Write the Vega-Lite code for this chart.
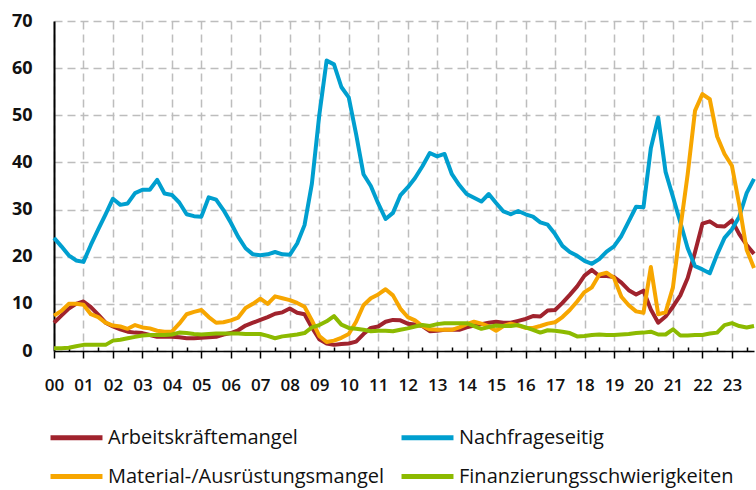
{
  "$schema": "https://vega.github.io/schema/vega-lite/v6.json",
  "autosize": "none",
  "width": 700,
  "height": 330,
  "padding": {"left": 54, "top": 21, "right": 2, "bottom": 139},
  "background": "white",
  "config": {
    "view": {"stroke": null},
    "font": "Open Sans"
  },
  "data": {
    "values": [
      {"t":2000.00,"A":6.0,"N":24.0,"M":7.5,"F":0.6},
      {"t":2000.25,"A":7.5,"N":22.2,"M":8.5,"F":0.6},
      {"t":2000.50,"A":9.0,"N":20.3,"M":10.0,"F":0.7},
      {"t":2000.75,"A":10.0,"N":19.2,"M":10.0,"F":1.0},
      {"t":2001.00,"A":10.5,"N":18.9,"M":9.8,"F":1.3},
      {"t":2001.25,"A":9.3,"N":22.5,"M":7.8,"F":1.3},
      {"t":2001.50,"A":7.7,"N":25.8,"M":7.2,"F":1.3},
      {"t":2001.75,"A":6.0,"N":29.0,"M":6.0,"F":1.3},
      {"t":2002.00,"A":5.2,"N":32.3,"M":5.4,"F":2.2},
      {"t":2002.25,"A":4.6,"N":31.0,"M":5.2,"F":2.4},
      {"t":2002.50,"A":4.1,"N":31.3,"M":4.7,"F":2.7},
      {"t":2002.75,"A":3.9,"N":33.5,"M":5.5,"F":3.0},
      {"t":2003.00,"A":3.8,"N":34.2,"M":5.0,"F":3.3},
      {"t":2003.25,"A":3.4,"N":34.2,"M":4.8,"F":3.4},
      {"t":2003.50,"A":3.0,"N":36.3,"M":4.3,"F":3.4},
      {"t":2003.75,"A":3.0,"N":33.4,"M":4.1,"F":3.4},
      {"t":2004.00,"A":3.0,"N":33.1,"M":4.1,"F":3.5},
      {"t":2004.25,"A":2.9,"N":31.5,"M":5.8,"F":3.9},
      {"t":2004.50,"A":2.7,"N":29.0,"M":7.8,"F":3.8},
      {"t":2004.75,"A":2.7,"N":28.6,"M":8.3,"F":3.6},
      {"t":2005.00,"A":2.8,"N":28.5,"M":8.7,"F":3.5},
      {"t":2005.25,"A":2.9,"N":32.6,"M":7.2,"F":3.6},
      {"t":2005.50,"A":3.0,"N":32.1,"M":6.0,"F":3.7},
      {"t":2005.75,"A":3.5,"N":29.9,"M":6.1,"F":3.7},
      {"t":2006.00,"A":3.8,"N":27.2,"M":6.5,"F":3.7},
      {"t":2006.25,"A":4.4,"N":24.2,"M":7.1,"F":3.7},
      {"t":2006.50,"A":5.4,"N":21.8,"M":9.1,"F":3.6},
      {"t":2006.75,"A":6.0,"N":20.5,"M":10.0,"F":3.6},
      {"t":2007.00,"A":6.6,"N":20.3,"M":11.1,"F":3.6},
      {"t":2007.25,"A":7.2,"N":20.5,"M":10.0,"F":3.2},
      {"t":2007.50,"A":7.9,"N":21.0,"M":11.6,"F":2.7},
      {"t":2007.75,"A":8.2,"N":20.5,"M":11.2,"F":3.1},
      {"t":2008.00,"A":9.0,"N":20.4,"M":10.8,"F":3.3},
      {"t":2008.25,"A":8.1,"N":22.8,"M":10.2,"F":3.5},
      {"t":2008.50,"A":7.8,"N":26.7,"M":9.4,"F":3.8},
      {"t":2008.75,"A":5.0,"N":35.5,"M":6.5,"F":5.0},
      {"t":2009.00,"A":2.5,"N":50.0,"M":3.2,"F":5.5},
      {"t":2009.25,"A":1.6,"N":61.6,"M":1.9,"F":6.3},
      {"t":2009.50,"A":1.3,"N":60.8,"M":2.2,"F":7.4},
      {"t":2009.75,"A":1.5,"N":56.0,"M":2.8,"F":5.6},
      {"t":2010.00,"A":1.6,"N":53.8,"M":3.6,"F":4.9},
      {"t":2010.25,"A":2.0,"N":46.0,"M":6.2,"F":4.7},
      {"t":2010.50,"A":3.6,"N":37.5,"M":9.7,"F":4.5},
      {"t":2010.75,"A":4.9,"N":35.0,"M":11.2,"F":4.2},
      {"t":2011.00,"A":5.2,"N":31.3,"M":12.0,"F":4.3},
      {"t":2011.25,"A":6.2,"N":28.0,"M":13.1,"F":4.3},
      {"t":2011.50,"A":6.6,"N":29.3,"M":11.8,"F":4.2},
      {"t":2011.75,"A":6.5,"N":33.0,"M":9.0,"F":4.5},
      {"t":2012.00,"A":5.8,"N":34.7,"M":7.2,"F":4.8},
      {"t":2012.25,"A":5.6,"N":36.7,"M":6.5,"F":5.2},
      {"t":2012.50,"A":5.3,"N":39.2,"M":5.3,"F":5.5},
      {"t":2012.75,"A":4.2,"N":42.0,"M":4.6,"F":5.3},
      {"t":2013.00,"A":4.3,"N":41.3,"M":4.5,"F":5.7},
      {"t":2013.25,"A":4.5,"N":41.8,"M":4.5,"F":5.9},
      {"t":2013.50,"A":4.5,"N":37.5,"M":4.5,"F":5.9},
      {"t":2013.75,"A":4.5,"N":35.2,"M":5.0,"F":5.9},
      {"t":2014.00,"A":5.0,"N":33.3,"M":5.7,"F":5.9},
      {"t":2014.25,"A":5.4,"N":32.5,"M":6.2,"F":5.3},
      {"t":2014.50,"A":5.7,"N":31.7,"M":5.8,"F":4.7},
      {"t":2014.75,"A":6.0,"N":33.3,"M":5.2,"F":5.1},
      {"t":2015.00,"A":6.2,"N":31.4,"M":4.3,"F":5.4},
      {"t":2015.25,"A":6.0,"N":29.6,"M":5.3,"F":5.3},
      {"t":2015.50,"A":6.0,"N":29.0,"M":5.8,"F":5.3},
      {"t":2015.75,"A":6.4,"N":29.7,"M":5.4,"F":5.5},
      {"t":2016.00,"A":6.8,"N":29.0,"M":4.9,"F":5.0},
      {"t":2016.25,"A":7.4,"N":28.5,"M":4.9,"F":4.5},
      {"t":2016.50,"A":7.3,"N":27.3,"M":5.3,"F":3.9},
      {"t":2016.75,"A":8.6,"N":26.8,"M":5.8,"F":4.4},
      {"t":2017.00,"A":8.7,"N":24.8,"M":6.1,"F":4.3},
      {"t":2017.25,"A":10.2,"N":22.3,"M":7.2,"F":4.1},
      {"t":2017.50,"A":11.9,"N":21.0,"M":8.7,"F":3.8},
      {"t":2017.75,"A":13.7,"N":20.2,"M":10.5,"F":3.1},
      {"t":2018.00,"A":16.0,"N":19.1,"M":12.5,"F":3.2},
      {"t":2018.25,"A":17.2,"N":18.5,"M":13.5,"F":3.4},
      {"t":2018.50,"A":15.9,"N":19.5,"M":16.2,"F":3.5},
      {"t":2018.75,"A":15.9,"N":21.1,"M":16.6,"F":3.4},
      {"t":2019.00,"A":15.7,"N":22.2,"M":15.5,"F":3.4},
      {"t":2019.25,"A":14.5,"N":24.4,"M":11.5,"F":3.5},
      {"t":2019.50,"A":12.9,"N":27.5,"M":9.7,"F":3.6},
      {"t":2019.75,"A":12.0,"N":30.6,"M":8.4,"F":3.8},
      {"t":2020.00,"A":12.8,"N":30.5,"M":8.1,"F":3.9},
      {"t":2020.25,"A":8.8,"N":43.0,"M":17.8,"F":4.1},
      {"t":2020.50,"A":6.0,"N":49.5,"M":7.8,"F":3.5},
      {"t":2020.75,"A":7.3,"N":38.0,"M":8.2,"F":3.5},
      {"t":2021.00,"A":9.4,"N":32.7,"M":13.5,"F":4.6},
      {"t":2021.25,"A":11.8,"N":27.3,"M":26.0,"F":3.3},
      {"t":2021.50,"A":15.5,"N":21.8,"M":37.5,"F":3.3},
      {"t":2021.75,"A":21.0,"N":18.0,"M":51.0,"F":3.4},
      {"t":2022.00,"A":27.0,"N":17.3,"M":54.5,"F":3.4},
      {"t":2022.25,"A":27.5,"N":16.5,"M":53.4,"F":3.7},
      {"t":2022.50,"A":26.5,"N":20.5,"M":45.5,"F":3.9},
      {"t":2022.75,"A":26.4,"N":24.0,"M":41.8,"F":5.5},
      {"t":2023.00,"A":27.7,"N":25.8,"M":39.3,"F":5.9},
      {"t":2023.25,"A":24.8,"N":28.5,"M":31.0,"F":5.3},
      {"t":2023.50,"A":22.5,"N":33.5,"M":21.5,"F":5.0},
      {"t":2023.75,"A":20.6,"N":36.5,"M":17.6,"F":5.3}
    ]
  },
  "transform": [
    {"fold": ["A", "N", "M", "F"], "as": ["key", "value"]},
    {"lookup": "key", "from": {"data": {"values": [
      {"key": "A", "name": "Arbeitskräftemangel"},
      {"key": "N", "name": "Nachfrageseitig"},
      {"key": "M", "name": "Material-/Ausrüstungsmangel"},
      {"key": "F", "name": "Finanzierungsschwierigkeiten"}
    ]}, "key": "key", "fields": ["name"]}}
  ],
  "mark": {"type": "line", "strokeWidth": 4, "strokeJoin": "round", "clip": false},
  "encoding": {
    "x": {
      "field": "t",
      "type": "quantitative",
      "scale": {"domain": [2000, 2023.75], "nice": false, "zero": false},
      "axis": {
        "title": null,
        "values": [2000,2000.5,2001,2001.5,2002,2002.5,2003,2003.5,2004,2004.5,2005,2005.5,2006,2006.5,2007,2007.5,2008,2008.5,2009,2009.5,2010,2010.5,2011,2011.5,2012,2012.5,2013,2013.5,2014,2014.5,2015,2015.5,2016,2016.5,2017,2017.5,2018,2018.5,2019,2019.5,2020,2020.5,2021,2021.5,2022,2022.5,2023,2023.5],
        "labelExpr": "datum.value % 1 == 0 ? substring(toString(datum.value), 2, 4) : ''",
        "labelFont": "Open Sans",
        "labelFontSize": 17,
        "labelFontWeight": 600,
        "labelColor": "#111111",
        "labelPadding": 19,
        "labelFlush": false,
        "labelOverlap": false,
        "domainColor": "#000000",
        "domainWidth": 1.5,
        "tickColor": "#000000",
        "tickWidth": 1.5,
        "tickSize": {"condition": {"test": "datum.value % 1 == 0", "value": 7}, "value": -4},
        "grid": true,
        "gridColor": "#BDBDBD",
        "gridWidth": 1.5,
        "gridDash": [8, 5],
        "gridOpacity": {"condition": {"test": "datum.value % 1 == 0", "value": 1}, "value": 0}
      }
    },
    "y": {
      "field": "value",
      "type": "quantitative",
      "scale": {"domain": [0, 70], "nice": false},
      "axis": {
        "title": null,
        "values": [0, 10, 20, 30, 40, 50, 60, 70],
        "ticks": false,
        "labelFont": "Open Sans",
        "labelFontSize": 18,
        "labelFontWeight": "bold",
        "labelColor": "#111111",
        "labelPadding": 22,
        "domainColor": "#000000",
        "domainWidth": 2,
        "gridColor": "#BDBDBD",
        "gridWidth": 1.5,
        "gridDash": [8, 5]
      }
    },
    "color": {
      "field": "name",
      "type": "nominal",
      "scale": {
        "domain": ["Arbeitskräftemangel", "Material-/Ausrüstungsmangel", "Nachfrageseitig", "Finanzierungsschwierigkeiten"],
        "range": ["#A0232D", "#F7A600", "#009FCF", "#8CBA00"]
      },
      "legend": {
        "title": null,
        "orient": "none",
        "legendX": -6,
        "legendY": 388,
        "columns": 2,
        "symbolType": "stroke",
        "symbolSize": 2700,
        "symbolStrokeWidth": 5,
        "labelFont": "Open Sans",
        "labelFontSize": 20,
        "labelColor": "#111111",
        "labelOffset": 3,
        "columnPadding": 6,
        "rowPadding": -10,
        "labelLimit": 400
      }
    },
    "order": {"field": "t", "type": "quantitative"}
  }
}
